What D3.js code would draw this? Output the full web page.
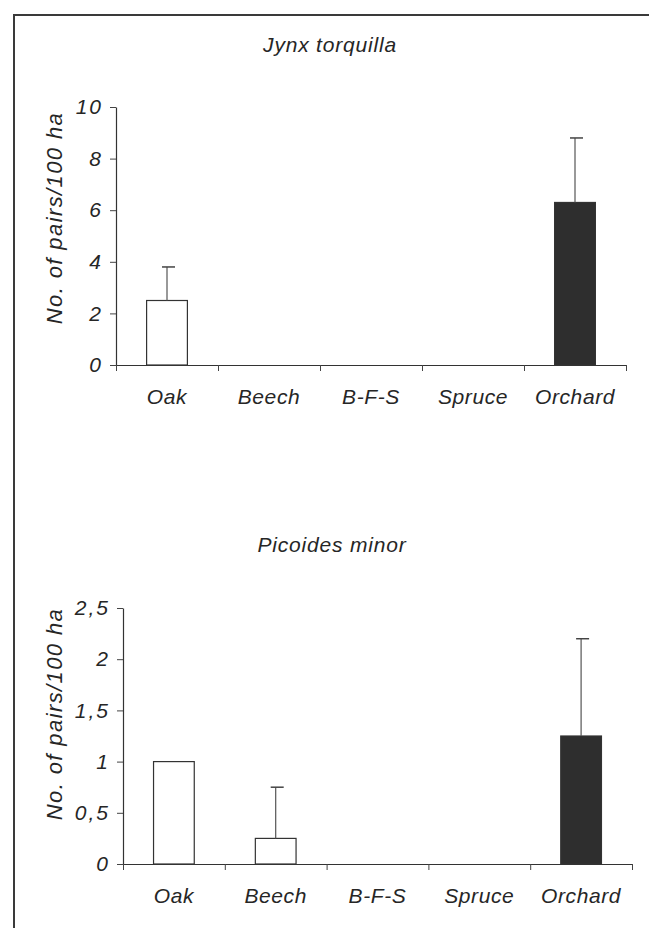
<!DOCTYPE html>
<html>
<head>
<meta charset="utf-8">
<script src="https://cdn.jsdelivr.net/npm/d3@7"></script>
<style>
  html, body { margin: 0; padding: 0; background: #fff; }
  svg text { font-family: "Liberation Sans", Arial, sans-serif; font-style: italic; fill: #262626; }
</style>
</head>
<body>
<svg id="chart" width="649" height="928"></svg>
<script>
// ---- data ----
const categories = ["Oak", "Beech", "B-F-S", "Spruce", "Orchard"];
const orchardIndex = 4;

const jynxTitle = "Jynx torquilla";
const jynxValues = [2.5, 0, 0, 0, 6.3];
const jynxErrors = [1.3, 0, 0, 0, 2.5];
const jynxTicks = [0, 2, 4, 6, 8, 10];
const jynxTickLabels = ["0", "2", "4", "6", "8", "10"];
const jynxMax = 10;

const picoTitle = "Picoides minor";
const picoValues = [1.0, 0.25, 0, 0, 1.25];
const picoErrors = [0, 0.5, 0, 0, 0.95];
const picoTicks = [0, 0.5, 1, 1.5, 2, 2.5];
const picoTickLabels = ["0", "0,5", "1", "1,5", "2", "2,5"];
const picoMax = 2.5;

const yTitle = "No. of pairs/100 ha";

// ---- drawing ----
const svg = d3.select("#chart");
const ink = "#262626";

// frame
svg.append("path")
  .attr("d", "M14,928 L14,15 L649,15")
  .attr("fill", "none").attr("stroke", "#3a3a3a").attr("stroke-width", 2);

function panel(opt) {
  const g = svg.append("g");
  const x = d3.scaleBand().domain(categories).range([opt.x0, opt.x1]).padding(0);
  const xb = d3.scaleLinear().domain([0, categories.length]).range([opt.x0, opt.x1]);
  const y = d3.scaleLinear().domain([0, opt.max]).range([opt.yBase, opt.yTop]);

  // title
  g.append("text").attr("x", opt.titleX).attr("y", opt.titleY)
    .attr("text-anchor", "middle").attr("font-size", 21).attr("letter-spacing", 0.8)
    .text(opt.title);

  // y title
  g.append("text")
    .attr("transform", `translate(${opt.yTitleX},${opt.yTitleY}) rotate(-90)`)
    .attr("text-anchor", "middle").attr("font-size", 22).attr("letter-spacing", 1.4)
    .text(yTitle);

  // y axis
  const yAxis = d3.axisLeft(y).tickValues(opt.ticks)
    .tickFormat((d, i) => opt.tickLabels[i]).tickSize(6).tickSizeOuter(0).tickPadding(7);
  const ya = g.append("g").attr("transform", `translate(${opt.x0},0)`).call(yAxis);
  ya.select(".domain").attr("stroke", "#333").attr("stroke-width", 1.2);
  ya.selectAll(".tick line").attr("stroke", "#444");
  ya.selectAll(".tick text").attr("font-size", 21).attr("letter-spacing", 2)
    .attr("font-family", null).attr("fill", ink);

  // bars
  const bw = x.bandwidth() * 0.4;
  const data = categories.map((c, i) => ({ c, v: opt.values[i], e: opt.errors[i], i }));
  g.selectAll("rect.bar").data(data.filter(d => d.v > 0)).join("rect")
    .attr("class", "bar")
    .attr("x", d => x(d.c) + (x.bandwidth() - bw) / 2)
    .attr("y", d => y(d.v))
    .attr("width", bw)
    .attr("height", d => y(0) - y(d.v))
    .attr("fill", d => d.i === orchardIndex ? "#2e2e2e" : "#fff")
    .attr("stroke", "#333").attr("stroke-width", 1.2);

  // error bars
  const eb = data.filter(d => d.v > 0 && d.e > 0);
  const cx = d => x(d.c) + x.bandwidth() / 2;
  g.selectAll("line.whisker").data(eb).join("line")
    .attr("x1", cx).attr("x2", cx)
    .attr("y1", d => y(d.v)).attr("y2", d => y(d.v + d.e))
    .attr("stroke", "#555").attr("stroke-width", 1.2);
  g.selectAll("line.cap").data(eb).join("line")
    .attr("x1", d => cx(d) - 5).attr("x2", d => cx(d) + 8)
    .attr("y1", d => y(d.v + d.e)).attr("y2", d => y(d.v + d.e))
    .attr("stroke", "#444").attr("stroke-width", 1.5);

  // x axis line + boundary ticks
  const xAxis = d3.axisBottom(xb).tickValues(d3.range(0, categories.length + 1))
    .tickFormat("").tickSize(6).tickSizeOuter(0);
  const xa = g.append("g").attr("transform", `translate(0,${opt.yBase})`).call(xAxis);
  xa.select(".domain").attr("stroke", "#333").attr("stroke-width", 1.2);
  xa.selectAll(".tick line").attr("stroke", "#444");

  // category labels
  const xl = d3.axisBottom(x).tickSize(0).tickPadding(opt.labelPad);
  const xla = g.append("g").attr("transform", `translate(0,${opt.yBase})`).call(xl);
  xla.select(".domain").remove();
  xla.selectAll(".tick text").attr("font-size", 21).attr("letter-spacing", 0.6)
    .attr("font-family", null).attr("fill", ink);
}

panel({
  title: jynxTitle, titleX: 330, titleY: 52,
  values: jynxValues, errors: jynxErrors, ticks: jynxTicks, tickLabels: jynxTickLabels,
  max: jynxMax, x0: 116, x1: 626, yBase: 365, yTop: 107,
  yTitleX: 62, yTitleY: 218, labelPad: 24
});

panel({
  title: picoTitle, titleX: 332, titleY: 552,
  values: picoValues, errors: picoErrors, ticks: picoTicks, tickLabels: picoTickLabels,
  max: picoMax, x0: 123, x1: 632, yBase: 864, yTop: 608,
  yTitleX: 62, yTitleY: 714, labelPad: 24
});
</script>
</body>
</html>
